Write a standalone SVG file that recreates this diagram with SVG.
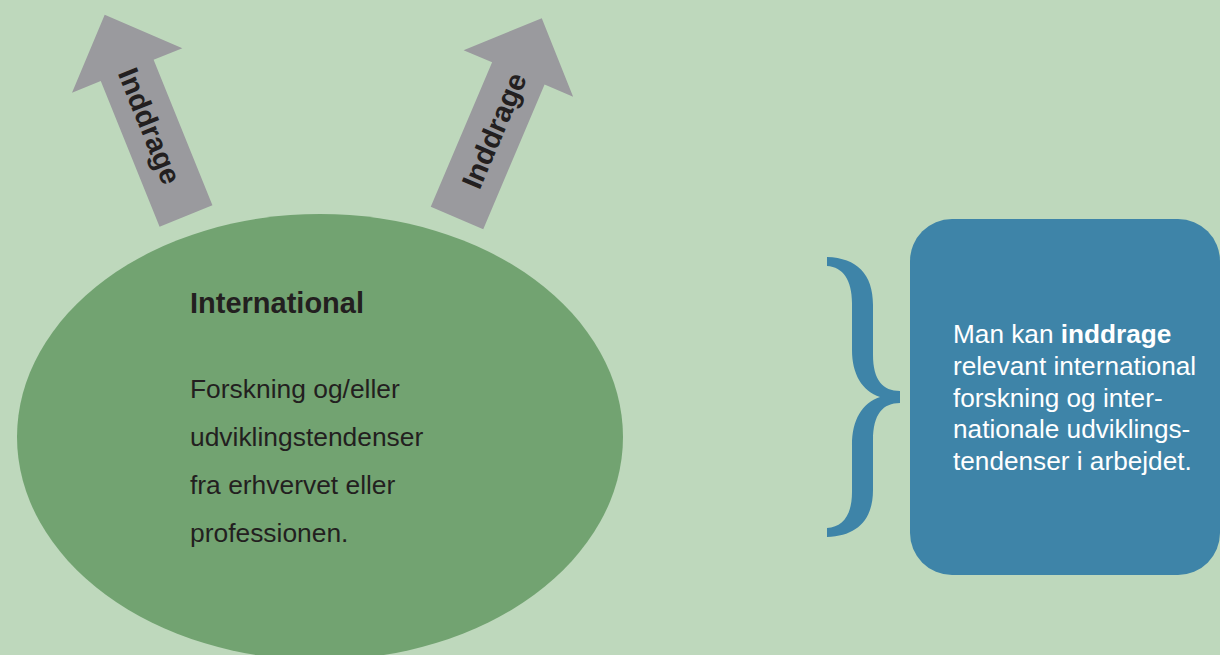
<svg xmlns="http://www.w3.org/2000/svg" width="1220" height="655" viewBox="0 0 1220 655">
<style>
.arrow{fill:#9a9a9e}
.alabel{font-family:"Liberation Sans",Arial,sans-serif;font-weight:bold;font-size:29px;fill:#231f20}
.title{font-family:"Liberation Sans",Arial,sans-serif;font-weight:bold;font-size:29px;fill:#231f20}
.body{font-family:"Liberation Sans",Arial,sans-serif;font-size:26.4px;fill:#231f20}
.box{font-family:"Liberation Sans",Arial,sans-serif;font-size:26.2px;fill:#ffffff}
.blue{fill:#3e84a8}
</style>
<defs>
<path id="arr" d="M -28.5,0 L -28.5,-157 L -59.5,-157 L 0,-217 L 59.5,-157 L 28.5,-157 L 28.5,0 Z"/>
</defs>
<rect x="0" y="0" width="1220" height="655" fill="#bed8bc"/>
<g id="connectors">
<g id="arrow-left" transform="translate(186,216) rotate(-22)">
<use href="#arr" class="arrow"/>
<text class="alabel" text-anchor="middle" transform="translate(-10,-97) rotate(90)">Inddrage</text>
</g>
<g id="arrow-right" transform="translate(457,218) rotate(23)">
<use href="#arr" class="arrow"/>
<text class="alabel" text-anchor="middle" transform="translate(10,-95) rotate(-90)">Inddrage</text>
</g>
</g>
<g id="node-international">
<ellipse cx="320" cy="437" rx="303" ry="223" fill="#72a371"/>
<text class="title" x="190" y="313">International</text>
<text class="body" x="190" y="398">Forskning og/eller</text>
<text class="body" x="190" y="446">udviklingstendenser</text>
<text class="body" x="190" y="494">fra erhvervet eller</text>
<text class="body" x="190" y="542">professionen.</text>
</g>
<g id="brace">
<path class="blue" d="M 827,257 C 857,258 873,274 873,305 L 873,355 C 873,380 883,391 900,391 L 900,403 C 883,403 873,414 873,440 L 873,490 C 873,520 857,536 827,537 L 827,528 C 843,527 852,515 852,492 L 852,445 C 852,420 862,403 880,397 C 862,391 852,374 852,350 L 852,303 C 852,280 843,267 827,266 Z"/>
</g>
<g id="node-summary">
<rect x="910" y="219" width="310" height="356" rx="42" ry="42" class="blue"/>
<text class="box" x="953" y="343">Man kan <tspan font-weight="bold">inddrage</tspan></text>
<text class="box" x="953" y="375">relevant international</text>
<text class="box" x="953" y="407">forskning og inter-</text>
<text class="box" x="953" y="438">nationale udviklings-</text>
<text class="box" x="953" y="470">tendenser i arbejdet.</text>
</g>
</svg>
